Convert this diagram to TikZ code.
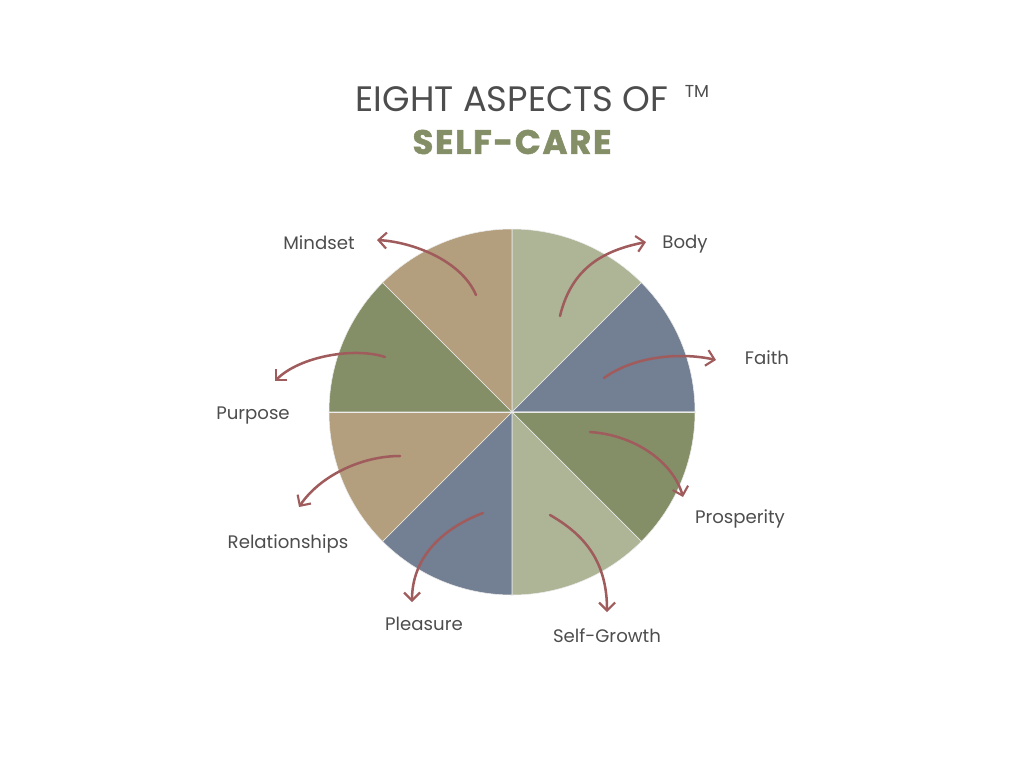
\documentclass[tikz,border=0pt]{standalone}
\usepackage{fontspec}
\setmainfont{Poppins}
\usetikzlibrary{arrows.meta}
\definecolor{sage}{HTML}{ADB596}
\definecolor{slate}{HTML}{737F92}
\definecolor{olive}{HTML}{848F67}
\definecolor{tan}{HTML}{B39F7D}
\definecolor{rust}{HTML}{A05C5C}
\definecolor{ink}{HTML}{4D4D4D}
\tikzset{
  slice/.style={draw=white!85!gray,line width=0.4pt},
  aspect/.style={font=\fontsize{13.6}{16}\selectfont,text=ink,inner sep=0pt},
  curl/.style={rust,line width=1.9pt,line cap=round,-{Straight Barb[length=6pt,width=12pt,line width=1.6pt]}}
}
\begin{document}
\begin{tikzpicture}[x=0.75pt,y=-0.75pt]
\useasboundingbox (0,0) rectangle (1024,768);
%TITLE
\node [font=\fontsize{26.5}{30}\selectfont,text=ink,inner sep=0pt] (title) at (512,99) {EIGHT ASPECTS OF};
\node [font=\fontsize{13}{15}\selectfont,text=ink,inner sep=0pt] (tm) at (697,91) {TM};
\node [font=\fontsize{25.5}{28}\selectfont\bfseries\addfontfeature{LetterSpace=5,FakeBold=1.5},text=olive,inner sep=0pt] (sub) at (512,142) {SELF-CARE};
%PIE
\coordinate (c) at (512,412);
\fill [sage,slice] (c) -- +(0,-183) arc [start angle=-90,end angle=-45,radius=183] -- cycle;
\fill [slate,slice] (c) -- +(-45:183) arc [start angle=-45,end angle=0,radius=183] -- cycle;
\fill [olive,slice] (c) -- +(0:183) arc [start angle=0,end angle=45,radius=183] -- cycle;
\fill [sage,slice] (c) -- +(45:183) arc [start angle=45,end angle=90,radius=183] -- cycle;
\fill [slate,slice] (c) -- +(90:183) arc [start angle=90,end angle=135,radius=183] -- cycle;
\fill [tan,slice] (c) -- +(135:183) arc [start angle=135,end angle=180,radius=183] -- cycle;
\fill [olive,slice] (c) -- +(180:183) arc [start angle=180,end angle=225,radius=183] -- cycle;
\fill [tan,slice] (c) -- +(225:183) arc [start angle=225,end angle=270,radius=183] -- cycle;
\draw [slice] (c) +(0:183) -- +(180:183);
%LABELS
\node [aspect] (body) at (685,244) {Body};
\node [aspect] (faith) at (767,358) {Faith};
\node [aspect] (prosperity) at (740,519) {Prosperity};
\node [aspect] (growth) at (607,636) {Self-Growth};
\node [aspect] (pleasure) at (424,624) {Pleasure};
\node [aspect] (relations) at (288,544) {Relationships};
\node [aspect] (purpose) at (253,416) {Purpose};
\node [aspect] (mindset) at (319,243) {Mindset};
%ARROW ENDS
\coordinate (s1) at (560,316); \coordinate (e1) at (646,242);
\coordinate (s2) at (604,378); \coordinate (e2) at (716,360);
\coordinate (s3) at (590,432); \coordinate (e3) at (683,497);
\coordinate (s4) at (550,515); \coordinate (e4) at (607,612);
\coordinate (s5) at (483,513); \coordinate (e5) at (412,602);
\coordinate (s6) at (400,456); \coordinate (e6) at (299,507);
\coordinate (s7) at (385,357); \coordinate (e7) at (275,381);
\coordinate (s8) at (476,295); \coordinate (e8) at (377,240);
%ARROWS
\draw [curl] (s1) .. controls +(12,-50) and +(-40,8) .. (e1);
\draw [curl] (s2) .. controls +(30,-22) and +(-35,-8) .. (e2);
\draw [curl] (s3) .. controls +(45,3) and +(-10,-35) .. (e3);
\draw [curl] (s4) .. controls +(35,20) and +(0,-50) .. (e4);
\draw [curl] (s5) .. controls +(-40,15) and +(0,-45) .. (e5);
\draw [curl] (s6) .. controls +(-40,0) and +(20,-30) .. (e6);
\draw [curl] (s7) .. controls +(-30,-10) and +(25,-25) .. (e7);
\draw [curl] (s8) .. controls +(-15,-35) and +(35,2) .. (e8);
\end{tikzpicture}
\end{document}
